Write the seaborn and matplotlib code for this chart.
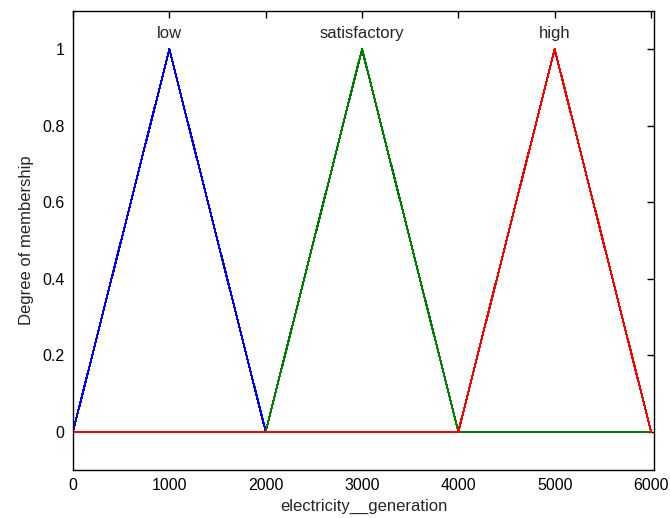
import matplotlib
matplotlib.use('Agg')
import matplotlib.pyplot as plt
import seaborn as sns
import pandas as pd

# membership function break points
x_pts = [0, 1000, 2000, 3000, 4000, 5000, 6000]
low = [0, 1, 0, 0, 0, 0, 0]
satisfactory = [0, 0, 0, 1, 0, 0, 0]
high = [0, 0, 0, 0, 0, 1, 0]
mf_names = ['low', 'satisfactory', 'high']
mf_peaks = [1000, 3000, 5000]
mf_colors = ['#0000ff', '#008000', '#ff0000']

sns.set_style('white')
plt.rcParams['font.family'] = ['Liberation Sans', 'DejaVu Sans']

fig = plt.figure(figsize=(6.7, 5.18), dpi=100)
ax = fig.add_axes([0.109, 0.093, 0.867, 0.886])

for name, vals, col in zip(mf_names, [low, satisfactory, high], mf_colors):
    df = pd.DataFrame({'x': x_pts, 'y': vals})
    sns.lineplot(data=df, x='x', y='y', ax=ax, color=col, linewidth=0.75,
                 sort=False, estimator=None, antialiased=False)

for name, px in zip(mf_names, mf_peaks):
    ax.text(px, 1.03, name, ha='center', va='baseline', fontsize=12)

ax.set_xlim(0, 6030)
ax.set_ylim(-0.1, 1.1)
ax.set_xticks([0, 1000, 2000, 3000, 4000, 5000, 6000])
ax.set_yticks([0, 0.2, 0.4, 0.6, 0.8, 1])
ax.set_yticklabels(['0', '0.2', '0.4', '0.6', '0.8', '1'])
ax.tick_params(direction='in', length=5, width=1, labelsize=11.5,
               top=True, right=True, colors='black', pad=6)
ax.set_xlabel('electricity__generation', fontsize=12, labelpad=4)
ax.set_ylabel('Degree of membership', fontsize=12, labelpad=6)
for sp in ax.spines.values():
    sp.set_color('black')
    sp.set_linewidth(1.0)

fig.savefig('out.png', dpi=100)
